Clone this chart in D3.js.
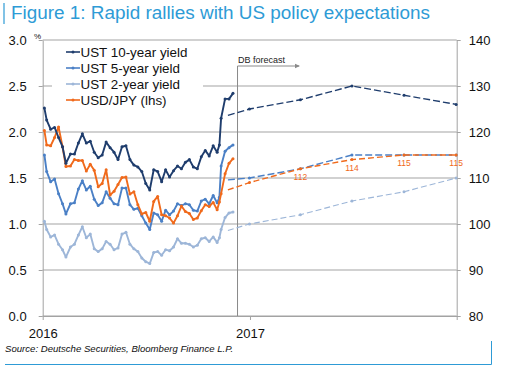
<!DOCTYPE html>
<html>
<head>
<meta charset="utf-8">
<script src="https://cdn.jsdelivr.net/npm/d3@7"></script>
<style>
  body { margin: 0; background: #fff; }
  text { font-family: "Liberation Sans", Arial, sans-serif; }
</style>
</head>
<body>
<div id="chart"></div>
<script>
// weekly history (2016)
var dates = ["2016-01-04","2016-01-08","2016-01-15","2016-01-22","2016-01-29","2016-02-05","2016-02-11","2016-02-19","2016-02-26","2016-03-04",
  "2016-03-11","2016-03-18","2016-03-25","2016-04-01","2016-04-08","2016-04-15","2016-04-22","2016-04-29","2016-05-06","2016-05-13",
  "2016-05-20","2016-05-27","2016-06-03","2016-06-10","2016-06-17","2016-06-24","2016-07-01","2016-07-08","2016-07-15","2016-07-22",
  "2016-07-29","2016-08-05","2016-08-12","2016-08-19","2016-08-26","2016-09-02","2016-09-09","2016-09-16","2016-09-23","2016-09-30",
  "2016-10-07","2016-10-14","2016-10-21","2016-10-28","2016-11-04","2016-11-08","2016-11-11","2016-11-18","2016-11-25","2016-12-02"];
var ust10 = [2.26,2.13,2.03,2.05,1.94,1.84,1.66,1.76,1.76,1.88, 1.98,1.88,1.90,1.78,1.72,1.75,1.89,1.83,1.78,1.70,
  1.84,1.85,1.70,1.64,1.62,1.57,1.44,1.37,1.59,1.57, 1.46,1.59,1.51,1.58,1.63,1.60,1.67,1.70,1.62,1.60,
  1.73,1.80,1.74,1.85,1.78,1.86,2.15,2.36,2.36,2.42];
var ust5 = [1.75,1.57,1.46,1.49,1.33,1.22,1.11,1.22,1.23,1.38, 1.47,1.37,1.41,1.27,1.20,1.23,1.35,1.28,1.22,1.21,
  1.39,1.39,1.21,1.16,1.17,1.09,1.01,0.94,1.12,1.10, 1.03,1.15,1.10,1.14,1.22,1.20,1.22,1.21,1.15,1.14,
  1.25,1.27,1.22,1.31,1.23,1.29,1.63,1.79,1.83,1.86];
var ust2 = [1.03,0.94,0.86,0.88,0.78,0.72,0.64,0.75,0.78,0.88, 0.97,0.85,0.89,0.73,0.70,0.73,0.81,0.78,0.72,0.74,
  0.89,0.91,0.78,0.73,0.70,0.63,0.59,0.57,0.69,0.70, 0.66,0.72,0.71,0.75,0.84,0.79,0.79,0.78,0.75,0.77,
  0.84,0.85,0.81,0.86,0.80,0.85,0.94,1.07,1.12,1.13];
var usdjpy = [120.3,117.2,117.0,118.8,121.1,116.8,112.5,112.6,114.0,113.8, 113.8,111.5,113.0,111.7,108.1,108.8,111.8,106.3,107.1,108.6,
  110.1,110.2,106.5,107.0,104.2,102.2,102.5,100.6,104.9,106.0, 102.0,101.8,101.3,100.2,101.8,103.9,102.7,102.3,101.0,101.3,
  102.9,104.2,103.8,104.7,103.1,104.8,106.6,110.9,113.2,114.2];

// DB forecast (quarter ends)
var fcDates = ["2016-11-23","2016-12-31","2017-03-31","2017-06-30","2017-09-30","2017-12-31"];
var fc10 = [2.18,2.25,2.35,2.50,2.40,2.30];
var fc5 = [1.48,1.50,1.60,1.75,1.75,1.75];
var fc2 = [0.93,1.00,1.10,1.25,1.35,1.50];
var fcJpy = [107.4,109,112,114,115,115];
var fcJpyLabels = ["","","112","114","115","115"];

var leftTicks = [0,0.5,1,1.5,2,2.5,3];
var rightTicks = [80,90,100,110,120,130,140];
var yearTicks = ["2016-01-01","2017-01-01","2018-01-01"];
var yearLabels = ["2016","2017",""];
var forecastStart = "2016-12-10";

var seriesNames = ["UST 10-year yield","UST 5-year yield","UST 2-year yield","USD/JPY (lhs)"];
var colors = ["#1f3d6d","#4b80c6","#9db6d8","#f06a1c"];

var width = 523, height = 375;
var plotLeft = 42.7, plotRight = 456.7, plotTop = 40, plotBottom = 316;
var parse = d3.timeParse("%Y-%m-%d");

var svg = d3.select("#chart").append("svg")
    .attr("width", width)
    .attr("height", height);

var x = d3.scaleTime().domain([parse("2016-01-01"), parse("2018-01-01")]).range([plotLeft, plotRight]),
    yL = d3.scaleLinear().domain([0, 3]).range([plotBottom, plotTop]),
    yR = d3.scaleLinear().domain([80, 140]).range([plotBottom, plotTop]);

// title
svg.append("line").attr("x1", 4).attr("x2", 4).attr("y1", 3).attr("y2", 24)
   .attr("stroke", "#2e9bd6").attr("stroke-width", 1.2);
svg.append("text").attr("x", 11).attr("y", 19)
   .attr("font-size", "18.9px").attr("fill", "#2e9bd6")
   .text("Figure 1: Rapid rallies with US policy expectations");

// gridlines
svg.append("g").selectAll("line")
   .data(leftTicks)
   .enter().append("line")
   .attr("x1", plotLeft).attr("x2", plotRight)
   .attr("y1", function(d){ return yL(d); })
   .attr("y2", function(d){ return yL(d); })
   .attr("stroke", "#a3a3a3").attr("stroke-width", 1);

// axes
var axisColor = "#a3a3a3";
var gl = svg.append("g")
   .attr("transform", "translate(" + plotLeft + ",0)")
   .call(d3.axisLeft(yL).tickValues(leftTicks).tickFormat(d3.format(".1f")).tickSize(4).tickSizeOuter(0).tickPadding(12));
var gr = svg.append("g")
   .attr("transform", "translate(" + plotRight + ",0)")
   .call(d3.axisRight(yR).tickValues(rightTicks).tickSize(4).tickSizeOuter(0).tickPadding(8));
var gx = svg.append("g")
   .attr("transform", "translate(0," + plotBottom + ")")
   .call(d3.axisBottom(x).tickValues(yearTicks.map(parse))
      .tickFormat(function(d, i){ return yearLabels[i]; })
      .tickSize(4).tickSizeOuter(0).tickPadding(9));
[gl, gr, gx].forEach(function(g){
    g.selectAll("path, line").attr("stroke", axisColor);
    g.selectAll("text").attr("font-size", "13px").attr("fill", "#111")
     .style("font-family", "'Liberation Sans', Arial, sans-serif");
});
svg.append("text").attr("x", 34).attr("y", 39).attr("font-size", "8px").attr("fill", "#111").text("%");

// forecast marker
var xf = x(parse(forecastStart));
svg.append("line").attr("x1", xf).attr("x2", xf).attr("y1", 66).attr("y2", plotBottom)
   .attr("stroke", "#8a8a8a").attr("stroke-width", 1);
svg.append("line").attr("x1", xf).attr("x2", 299).attr("y1", 66).attr("y2", 66)
   .attr("stroke", "#8a8a8a").attr("stroke-width", 1);
svg.append("path").attr("d", "M300,66 L295,63.8 L295,68.2 Z").attr("fill", "#8a8a8a");
svg.append("text").attr("x", xf + 0.5).attr("y", 63).attr("font-size", "9px").attr("fill", "#222")
   .text("DB forecast");

// legend background
svg.append("rect").attr("x", 52).attr("y", 44).attr("width", 151).attr("height", 64).attr("fill", "#fff");

var hist = [ust10, ust5, ust2, usdjpy];
var fcs = [fc10, fc5, fc2, fcJpy];
var scales = [yL, yL, yL, yR];
var dashes = ["7,3", "7,3", "6,3", "6,3"];
var hDates = dates.map(parse), fDates = fcDates.map(parse);

// forecast lines (back to front)
[2, 0, 1, 3].forEach(function(k){
    var pts = fcs[k].map(function(v, i){ return {d: fDates[i], v: v}; });
    var line = d3.line().x(function(p){ return x(p.d); }).y(function(p){ return scales[k](p.v); });
    svg.append("path").datum(pts)
       .attr("d", line).attr("fill", "none")
       .attr("stroke", colors[k]).attr("stroke-width", k == 2 ? 1.1 : 1.4)
       .attr("stroke-dasharray", dashes[k]);
    svg.append("g").selectAll("circle")
       .data(pts.slice(1))
       .enter().append("circle")
       .attr("cx", function(p){ return x(p.d); })
       .attr("cy", function(p){ return scales[k](p.v); })
       .attr("r", 1.5).attr("fill", colors[k]);
});

// forecast labels for USD/JPY
svg.append("g").selectAll("text")
   .data(fcJpy.map(function(v, i){ return {d: fDates[i], v: v, t: fcJpyLabels[i]}; }))
   .enter().append("text")
   .attr("x", function(p){ return x(p.d); })
   .attr("y", function(p){ return yR(p.v) + 11; })
   .attr("text-anchor", "middle").attr("font-size", "8.5px").attr("fill", colors[3])
   .text(function(p){ return p.t; });

// history lines
[2, 1, 3, 0].forEach(function(k){
    var pts = hist[k].map(function(v, i){ return {d: hDates[i], v: v}; });
    var line = d3.line().x(function(p){ return x(p.d); }).y(function(p){ return scales[k](p.v); });
    svg.append("path").datum(pts)
       .attr("d", line).attr("fill", "none")
       .attr("stroke", colors[k]).attr("stroke-width", 1.9)
       .attr("stroke-linejoin", "round");
    svg.append("g").selectAll("circle")
       .data(pts)
       .enter().append("circle")
       .attr("cx", function(p){ return x(p.d); })
       .attr("cy", function(p){ return scales[k](p.v); })
       .attr("r", 1.5).attr("fill", colors[k]);
});

// legend
var leg = svg.append("g").selectAll("g")
   .data(seriesNames)
   .enter().append("g")
   .attr("transform", function(d, i){ return "translate(0," + (52 + i * 16) + ")"; });
leg.append("line").attr("x1", 66).attr("x2", 80).attr("y1", 0).attr("y2", 0)
   .attr("stroke", function(d, i){ return colors[i]; }).attr("stroke-width", 1.6);
leg.append("circle").attr("cx", 73).attr("cy", 0).attr("r", 1.5)
   .attr("fill", function(d, i){ return colors[i]; });
leg.append("text").attr("x", 80.5).attr("y", 4.8)
   .attr("font-size", "13.4px").attr("fill", "#111")
   .text(function(d){ return d; });

// source + frame
svg.append("text").attr("x", 5).attr("y", 352)
   .attr("font-size", "9.6px").attr("font-style", "italic").attr("fill", "#111")
   .text("Source: Deutsche Securities, Bloomberg Finance L.P.");
svg.append("path").attr("d", "M5,364.5 H491.5 V341")
   .attr("fill", "none").attr("stroke", "#2e9bd6").attr("stroke-width", 1);
</script>
</body>
</html>
